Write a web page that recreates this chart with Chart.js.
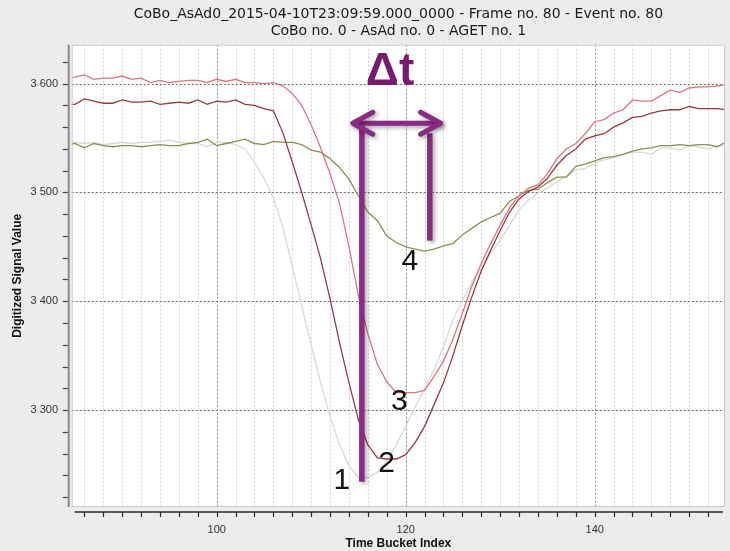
<!DOCTYPE html>
<html>
<head>
<meta charset="utf-8">
<script src="https://cdn.jsdelivr.net/npm/chart.js@4.4.1/dist/chart.umd.min.js"></script>
<style>
html,body{margin:0;padding:0;background:#ececec;}
#wrap{width:730px;height:551px;position:relative;}
canvas{display:block;}
</style>
</head>
<body>
<div id="wrap"><canvas id="c" width="730" height="551"></canvas></div>
<script>
// ---------- data ----------
const titleLines = [
  "CoBo_AsAd0_2015-04-10T23:09:59.000_0000 - Frame no. 80 - Event no. 80",
  "CoBo no. 0 - AsAd no. 0 - AGET no. 1"
];
const xAxisTitle = "Time Bucket Index";
const yAxisTitle = "Digitized Signal Value";

const timeBuckets = [84,85,86,87,88,89,90,91,92,93,94,95,96,97,98,99,100,101,102,103,104,105,106,107,108,109,110,111,112,113,114,115,116,117,118,119,120,121,122,123,124,125,126,127,128,129,130,131,132,133,134,135,136,137,138,139,140,141,142,143,144,145,146,147,148,149,150,151,152,153,154];

// trace 1 (light grey)
const trace1 = [3546,3546,3545,3546,3544,3545,3546,3545,3546,3546,
  3547,3548,3546,3545,3545,3542,3546,3546,3544,3540,
  3528,3513,3495,3468,3432,3396,3360,3325,3294,3268,
  3249,3238,3238,3243,3253,3268,3285,3303,3320,3337,
  3358,3383,3401,3418,3430,3444,3456,3470,3484,3493,
  3499,3504,3510,3515,3521,3522,3527,3530,3532,3535,
  3537,3537,3535,3541,3541,3539,3543,3542,3540,3543,
  3543];
// trace 2 (dark red)
const trace2 = [3581,3581,3586,3584,3582,3582,3585,3583,3583,3584,
  3581,3582,3583,3582,3585,3581,3584,3583,3585,3581,
  3580,3577,3575,3555,3528,3500,3470,3439,3402,3362,
  3325,3291,3268,3256,3255,3255,3259,3270,3285,3305,
  3325,3350,3378,3404,3428,3447,3465,3482,3494,3501,
  3505,3513,3525,3534,3540,3549,3552,3554,3560,3564,
  3569,3570,3573,3575,3576,3576,3579,3577,3577,3577,
  3576];
// trace 3 (pink)
const trace3 = [3605,3606,3608,3604,3605,3605,3607,3604,3605,3601,
  3603,3601,3602,3603,3603,3601,3604,3602,3604,3601,
  3601,3600,3601,3598,3591,3580,3562,3541,3517,3490,
  3450,3405,3370,3342,3326,3316,3316,3316,3318,3331,
  3345,3365,3389,3414,3435,3453,3470,3486,3497,3504,
  3507,3517,3531,3540,3545,3554,3565,3567,3573,3576,
  3585,3584,3584,3589,3594,3592,3596,3597,3597,3598,
  3599];
// trace 4 (olive)
const trace4 = [3544,3545,3541,3545,3543,3542,3543,3543,3542,3543,
  3544,3543,3543,3545,3546,3549,3543,3545,3547,3549,
  3545,3544,3547,3546,3546,3544,3539,3537,3531,3523,
  3512,3497,3482,3474,3460,3454,3450,3448,3446,3448,
  3451,3453,3461,3467,3473,3477,3481,3492,3497,3502,
  3503,3509,3514,3514,3524,3526,3529,3532,3533,3535,
  3538,3540,3541,3543,3543,3544,3543,3544,3544,3542,
  3547];

const xTickValues = [100,120,140];
const xTickLabels = ["100","120","140"];
const yTickValues = [3300,3400,3500,3600];
const yTickLabels = ["3 300","3 400","3 500","3 600"];

// annotation overlay (data coordinates)
const traceNumbers = ["1","2","3","4"];
const traceNumberX = [113.23,117.99,119.32,120.45];
const traceNumberY = [3235.1,3250.5,3307.2,3436.4];
const deltaText = "Δt";
const deltaTextPos = [118.34, 3598.8];
const arrowSpan = [114.3, 123.8, 3563.6];
const markerBarX = [115.36, 122.55];
const markerBarTop = [3561, 3554.4];
const markerBarBottom = [3234.2, 3455.7];

// ---------- chart ----------
const X_MIN = 84.656, X_MAX = 153.79, Y_MIN = 3210.9, Y_MAX = 3635.8;
const FONT = '"Liberation Sans", Arial, sans-serif';
const TITLE_FONT = '"DejaVu Sans", "Liberation Sans", sans-serif';

function pts(arr){ return timeBuckets.map((x,i)=>({x:x,y:arr[i]})); }

const framePlugin = {
  id:'frame',
  beforeDraw(chart){
    const {ctx, chartArea:a, width, height} = chart;
    ctx.save();
    ctx.fillStyle = '#ececec';
    ctx.fillRect(0,0,width,height);
    ctx.fillStyle = '#ffffff';
    ctx.fillRect(a.left, a.top, a.right-a.left, a.bottom-a.top);
    ctx.restore();
  },
  beforeDatasetsDraw(chart){
    const {ctx, chartArea:a, scales:{x,y}} = chart;
    ctx.save();
    ctx.beginPath(); ctx.rect(a.left,a.top,a.right-a.left,a.bottom-a.top); ctx.clip();
    ctx.lineWidth = 1;
    ctx.setLineDash([2,2]);
    for (let v = 86; v <= 152; v += 2) {
      const px = Math.round(x.getPixelForValue(v)) + 0.5;
      ctx.strokeStyle = (v % 20 === 0) ? '#8c8c8c' : '#d2d2d2';
      ctx.beginPath(); ctx.moveTo(px, a.top); ctx.lineTo(px, a.bottom); ctx.stroke();
    }
    ctx.strokeStyle = '#6a6a6a';
    yTickValues.forEach(v => {
      const py = Math.round(y.getPixelForValue(v)) + 0.5;
      ctx.beginPath(); ctx.moveTo(a.left, py); ctx.lineTo(a.right, py); ctx.stroke();
    });
    ctx.restore();
  },
  afterDatasetsDraw(chart){
    const {ctx, chartArea:a, scales:{x,y}} = chart;
    ctx.save();
    // plot border
    ctx.strokeStyle = '#c9c9c9'; ctx.lineWidth = 1;
    ctx.strokeRect(a.left+0.5, a.top+0.5, a.right-a.left-1, a.bottom-a.top-1);
    // annotations
    const purple = '#8a2a82';
    ctx.shadowColor = 'rgba(0,0,0,0.35)'; ctx.shadowBlur = 4; ctx.shadowOffsetX = 2; ctx.shadowOffsetY = 2;
    ctx.strokeStyle = purple; ctx.lineWidth = 5.5; ctx.lineCap = 'butt';
    markerBarX.forEach((bx,i) => {
      const px = x.getPixelForValue(bx);
      ctx.beginPath();
      ctx.moveTo(px, y.getPixelForValue(markerBarTop[i]));
      ctx.lineTo(px, y.getPixelForValue(markerBarBottom[i]));
      ctx.stroke();
    });
    const ax0 = x.getPixelForValue(arrowSpan[0]), ax1 = x.getPixelForValue(arrowSpan[1]), ay = y.getPixelForValue(arrowSpan[2]);
    ctx.lineWidth = 5; ctx.lineCap = 'round'; ctx.lineJoin = 'round';
    ctx.beginPath(); ctx.moveTo(ax0+2, ay); ctx.lineTo(ax1-2, ay); ctx.stroke();
    ctx.beginPath();
    ctx.moveTo(ax0+21, ay-11); ctx.lineTo(ax0+1, ay); ctx.lineTo(ax0+21, ay+11);
    ctx.stroke();
    ctx.beginPath();
    ctx.moveTo(ax1-21, ay-11); ctx.lineTo(ax1-1, ay); ctx.lineTo(ax1-21, ay+11);
    ctx.stroke();
    ctx.shadowColor = 'rgba(0,0,0,0)'; ctx.shadowBlur = 0; ctx.shadowOffsetX = 0; ctx.shadowOffsetY = 0;
    ctx.fillStyle = '#7a1a6c';
    ctx.font = 'bold 46px ' + FONT;
    ctx.textAlign = 'center'; ctx.textBaseline = 'alphabetic';
    ctx.fillText(deltaText, x.getPixelForValue(deltaTextPos[0]), y.getPixelForValue(deltaTextPos[1]));
    ctx.fillStyle = '#111111';
    ctx.font = '30px ' + FONT;
    ctx.textBaseline = 'middle';
    traceNumbers.forEach((t,i) => {
      ctx.fillText(t, x.getPixelForValue(traceNumberX[i]), y.getPixelForValue(traceNumberY[i]));
    });
    ctx.restore();
  },
  afterDraw(chart){
    const {ctx, chartArea:a, scales:{x,y}} = chart;
    ctx.save();
    // y axis line and ticks
    const yAxisX = a.left - 3;
    ctx.strokeStyle = '#8a8a8a'; ctx.lineWidth = 2;
    ctx.beginPath(); ctx.moveTo(yAxisX, a.top); ctx.lineTo(yAxisX, a.bottom); ctx.stroke();
    ctx.strokeStyle = '#404040'; ctx.lineWidth = 1.2;
    for (let v = 3220; v <= 3620; v += 20) {
      const py = Math.round(y.getPixelForValue(v)) + 0.5;
      ctx.beginPath(); ctx.moveTo(yAxisX - 6, py); ctx.lineTo(yAxisX - 1, py); ctx.stroke();
    }
    // x axis line and ticks
    const xAxisY = a.bottom + 5;
    ctx.strokeStyle = '#2a2a2a'; ctx.lineWidth = 1.5;
    ctx.beginPath(); ctx.moveTo(a.left + 3, xAxisY); ctx.lineTo(a.right - 2, xAxisY); ctx.stroke();
    ctx.lineWidth = 1.2;
    for (let v = 86; v <= 152; v += 2) {
      const px = Math.round(x.getPixelForValue(v)) + 0.5;
      ctx.beginPath(); ctx.moveTo(px, xAxisY); ctx.lineTo(px, xAxisY + 5); ctx.stroke();
    }
    ctx.restore();
  }
};

new Chart(document.getElementById('c'), {
  type: 'line',
  data: {
    datasets: [
      {label:'4', data: pts(trace4), borderColor:'#8e8e4e', borderWidth:1.3, pointRadius:0, tension:0, order:3},
      {label:'3', data: pts(trace3), borderColor:'#e0737f', borderWidth:1.3, pointRadius:0, tension:0, order:2},
      {label:'2', data: pts(trace2), borderColor:'#9c3a42', borderWidth:1.3, pointRadius:0, tension:0, order:1},
      {label:'1', data: pts(trace1), borderColor:'#dcd7d7', borderWidth:1.3, pointRadius:0, tension:0, order:4}
    ]
  },
  options: {
    responsive: false,
    animation: false,
    devicePixelRatio: 1,
    layout: { padding: { left: 0, right: 5, top: 0, bottom: 0 } },
    plugins: {
      legend: { display: false },
      tooltip: { enabled: false },
      title: {
        display: true,
        fullSize: false,
        text: titleLines,
        color: '#1a1a1a',
        font: { family: TITLE_FONT, size: 14, weight: 'normal', lineHeight: 1.2 },
        padding: { top: 6, bottom: 5.1 }
      }
    },
    scales: {
      x: {
        type: 'linear', min: X_MIN, max: X_MAX,
        afterFit(s){ s.height = 44; },
        afterBuildTicks(s){ s.ticks = xTickValues.map(v => ({value: v})); },
        grid: { display: false, drawTicks: false },
        border: { display: false },
        ticks: {
          autoSkip: false, maxRotation: 0, padding: 16.4, color: '#333333',
          font: { family: FONT, size: 11 },
          callback: (v) => xTickLabels[xTickValues.indexOf(v)]
        },
        title: { display: true, text: xAxisTitle, color: '#111111', padding: {top: 0, bottom: 0},
                 font: { family: FONT, size: 12, weight: 'bold' } }
      },
      y: {
        type: 'linear', min: Y_MIN, max: Y_MAX,
        afterFit(s){ s.width = 71.7; },
        afterBuildTicks(s){ s.ticks = yTickValues.map(v => ({value: v})); },
        grid: { display: false, drawTicks: false },
        border: { display: false },
        ticks: {
          autoSkip: false, padding: 13.7, color: '#333333',
          font: { family: FONT, size: 11 },
          callback: (v) => yTickLabels[yTickValues.indexOf(v)]
        },
        title: { display: true, text: yAxisTitle, color: '#111111', padding: {top: 10, bottom: 0},
                 font: { family: FONT, size: 12, weight: 'bold' } }
      }
    }
  },
  plugins: [framePlugin]
});
</script>
</body>
</html>
